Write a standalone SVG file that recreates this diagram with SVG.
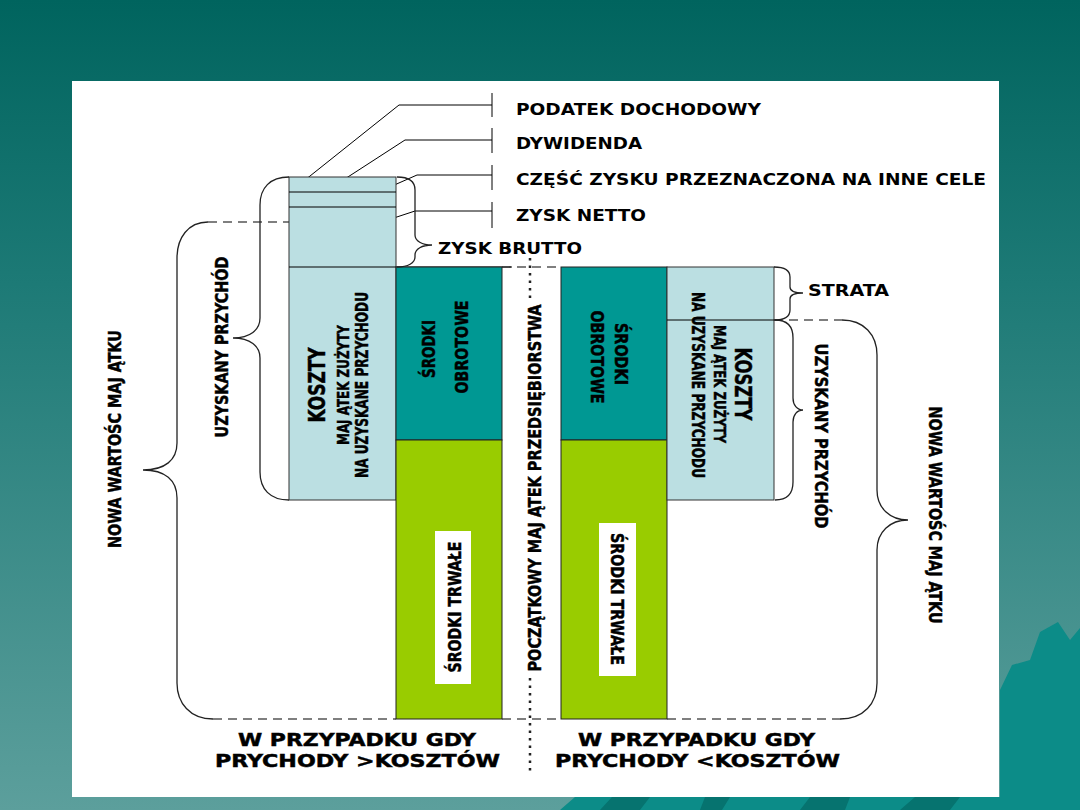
<svg xmlns="http://www.w3.org/2000/svg" width="1080" height="810" viewBox="0 0 1080 810">
<defs>
<linearGradient id="bg" x1="0" y1="0" x2="0" y2="1">
<stop offset="0" stop-color="#00645e"/>
<stop offset="0.35" stop-color="#1d7a76"/>
<stop offset="1" stop-color="#5c9f9c"/>
</linearGradient>
<style>
.t{font-family:"DejaVu Sans","Liberation Sans",sans-serif;font-weight:bold;fill:#000}
.r{font-family:"DejaVu Sans Condensed","DejaVu Sans","Liberation Sans",sans-serif;font-weight:bold;fill:#000;stroke:#000;stroke-width:0.45}
.ln{fill:none;stroke:#000;stroke-width:1}
.br{fill:none;stroke:#222;stroke-width:1.3}
.ds{fill:none;stroke:#555;stroke-width:1.3;stroke-dasharray:9 6}
.dt{fill:none;stroke:#222;stroke-width:2.5;stroke-dasharray:2.5 5}
.blue{fill:#bbdfe2;stroke:#333;stroke-width:1}
.teal{fill:#009893;stroke:#222;stroke-width:1}
.green{fill:#99cc00;stroke:#222;stroke-width:1}
.wbox{fill:#ffffff}
</style>
</defs>
<rect width="1080" height="810" fill="url(#bg)"/>
<path d="M1000,797 L1000,690 L1012,665 L1030,660 L1040,632 L1058,622 L1070,640 L1080,628 L1080,810 L560,810 L575,797 Z" fill="#0c8c88"/>
<path d="M600,810 L612,797 L650,797 L640,810 Z M700,810 L705,797 L730,797 L722,810 Z M800,810 L810,797 L850,797 L845,810 Z M900,810 L915,797 L960,797 L950,810 Z" fill="#06736f"/>
<rect x="72" y="81" width="927" height="716" fill="#ffffff"/>

<g id="connectors">
<path class="ln" d="M492,93 V117 M492,105 H399 L305,180"/>
<path class="ln" d="M492,128 V153 M492,140 H405 L317,197"/>
<path class="ln" d="M492,165 V190 M492,175 H417 L324,216"/>
<path class="ln" d="M492,202 V228 M492,211 H415 L333,238"/>
<path class="ds" d="M208,222 H289"/>
<path class="ds" d="M502,267 H561"/>
<path class="ds" d="M774,320 H842"/>
<path class="ds" d="M213,719 H396 M502,719 H561 M667,719 H840"/>
<path class="dt" d="M530,258 V302 M530,678 V772"/>
</g>

<g id="left-costs">
<rect class="blue" x="289" y="177" width="107" height="323"/>
<path class="ln" d="M289,192 H396 M289,207 H396 M289,267 H512"/>
<text class="r" font-size="23" transform="translate(317,385) rotate(-90)" x="0" y="8.4" text-anchor="middle" textLength="75" lengthAdjust="spacingAndGlyphs">KOSZTY</text>
<text class="r" font-size="16" transform="translate(343,385) rotate(-90)" x="0" y="5.8" text-anchor="middle" textLength="120" lengthAdjust="spacingAndGlyphs">MAJ ĄTEK ZUŻYTY</text>
<text class="r" font-size="17" transform="translate(362,385) rotate(-90)" x="0" y="6.2" text-anchor="middle" textLength="186" lengthAdjust="spacingAndGlyphs">NA UZYSKANE PRZYCHODU</text>
</g>

<g id="left-current">
<rect class="teal" x="396" y="267" width="106" height="173"/>
<text class="r" font-size="18" transform="translate(428,349) rotate(-90)" x="0" y="6.6" text-anchor="middle" textLength="58" lengthAdjust="spacingAndGlyphs">ŚRODKI</text>
<text class="r" font-size="18" transform="translate(461,347) rotate(-90)" x="0" y="6.6" text-anchor="middle" textLength="93" lengthAdjust="spacingAndGlyphs">OBROTOWE</text>
</g>

<g id="left-fixed">
<rect class="green" x="396" y="440" width="106" height="279"/>
<rect class="wbox" x="435" y="531" width="36" height="153"/>
<text class="r" font-size="17" transform="translate(455,607) rotate(-90)" x="0" y="6.2" text-anchor="middle" textLength="131" lengthAdjust="spacingAndGlyphs">ŚRODKI TRWAŁE</text>
</g>

<g id="right-current">
<rect class="teal" x="561" y="267" width="106" height="173"/>
<text class="r" font-size="18" transform="translate(622,354) rotate(90)" x="0" y="6.6" text-anchor="middle" textLength="62" lengthAdjust="spacingAndGlyphs">ŚRODKI</text>
<text class="r" font-size="18" transform="translate(598,357) rotate(90)" x="0" y="6.6" text-anchor="middle" textLength="93" lengthAdjust="spacingAndGlyphs">OBROTOWE</text>
</g>

<g id="right-fixed">
<rect class="green" x="561" y="440" width="106" height="279"/>
<rect class="wbox" x="599" y="523" width="37" height="153"/>
<text class="r" font-size="17" transform="translate(617,599) rotate(90)" x="0" y="6.2" text-anchor="middle" textLength="132" lengthAdjust="spacingAndGlyphs">ŚRODKI TRWAŁE</text>
</g>

<g id="right-costs">
<rect class="blue" x="667" y="267" width="107" height="233"/>
<path class="ln" d="M667,320 H774"/>
<text class="r" font-size="23" transform="translate(743,384) rotate(90)" x="0" y="8.4" text-anchor="middle" textLength="73" lengthAdjust="spacingAndGlyphs">KOSZTY</text>
<text class="r" font-size="16" transform="translate(720,384) rotate(90)" x="0" y="5.8" text-anchor="middle" textLength="118" lengthAdjust="spacingAndGlyphs">MAJ ĄTEK ZUŻYTY</text>
<text class="r" font-size="17" transform="translate(698,385) rotate(90)" x="0" y="6.2" text-anchor="middle" textLength="186" lengthAdjust="spacingAndGlyphs">NA UZYSKANE PRZYCHODU</text>
</g>

<g id="profit-labels">
<text class="t" font-size="16" x="516" y="115" textLength="245" lengthAdjust="spacingAndGlyphs">PODATEK DOCHODOWY</text>
<text class="t" font-size="16" x="516" y="149" textLength="126" lengthAdjust="spacingAndGlyphs">DYWIDENDA</text>
<text class="t" font-size="16" x="516" y="185" textLength="470" lengthAdjust="spacingAndGlyphs">CZĘŚĆ ZYSKU PRZEZNACZONA NA INNE CELE</text>
<text class="t" font-size="16" x="516" y="221" textLength="130" lengthAdjust="spacingAndGlyphs">ZYSK NETTO</text>
</g>

<g id="zysk-brutto">
<path class="br" d="M397,177 C408,177 415,181 415,190 L415,235 C415,241 422,245 432,245 C422,245 415,249 415,255 L415,257 C415,263 408,267 397,267"/>
<text class="t" font-size="16" x="438" y="254" textLength="144" lengthAdjust="spacingAndGlyphs">ZYSK BRUTTO</text>
</g>

<g id="left-revenue">
<path class="br" d="M289,177 C270,177 260,188 260,205 L260,318 C260,330 250,338 233,338 C250,338 260,346 260,358 L260,472 C260,489 270,500 289,500"/>
<text class="r" font-size="17" transform="translate(222,347) rotate(-90)" x="0" y="6.2" text-anchor="middle" textLength="181" lengthAdjust="spacingAndGlyphs">UZYSKANY PRZYCHÓD</text>
</g>

<g id="left-new-value">
<path class="br" d="M208,222 C188,222 177,238 177,258 L177,443 C177,460 165,470 143,470 C165,470 177,480 177,498 L177,683 C177,703 190,719 213,719"/>
<text class="r" font-size="18" transform="translate(114,439) rotate(-90)" x="0" y="6.6" text-anchor="middle" textLength="218" lengthAdjust="spacingAndGlyphs">NOWA WARTOŚC MAJ ĄTKU</text>
</g>

<g id="initial-assets">
<text class="r" font-size="18" transform="translate(534,488) rotate(-90)" x="0" y="6.6" text-anchor="middle" textLength="367" lengthAdjust="spacingAndGlyphs">POCZĄTKOWY MAJ ĄTEK PRZEDSIĘBIORSTWA</text>
</g>

<g id="strata">
<path class="br" d="M774,267 C785,267 790,270 790,277 L790,287 C790,291 795,293 803,293 C795,293 790,295 790,299 L790,310 C790,317 785,320 774,320"/>
<text class="t" font-size="16" x="808" y="296" textLength="81" lengthAdjust="spacingAndGlyphs">STRATA</text>
</g>

<g id="right-revenue">
<path class="br" d="M775,320 C787,320 793,326 793,338 L793,398 C793,405 797,410 803,410 C797,410 793,415 793,422 L793,482 C793,494 787,500 775,500"/>
<text class="r" font-size="17" transform="translate(821,436) rotate(90)" x="0" y="6.2" text-anchor="middle" textLength="185" lengthAdjust="spacingAndGlyphs">UZYSKANY  PRZYCHÓD</text>
</g>

<g id="right-new-value">
<path class="br" d="M842,320 C864,320 877,335 877,355 L877,490 C877,508 890,520 908,520 C890,520 877,532 877,550 L877,683 C877,703 864,719 840,719"/>
<text class="r" font-size="18" transform="translate(936,515) rotate(90)" x="0" y="6.6" text-anchor="middle" textLength="217" lengthAdjust="spacingAndGlyphs">NOWA WARTOŚC MAJ ĄTKU</text>
</g>

<g id="case-left">
<text class="r" font-size="18" x="238" y="746" textLength="238" lengthAdjust="spacingAndGlyphs">W PRZYPADKU GDY</text>
<text class="r" font-size="18" x="215" y="767" textLength="285" lengthAdjust="spacingAndGlyphs">PRYCHODY &gt;KOSZTÓW</text>
</g>

<g id="case-right">
<text class="r" font-size="18" x="578" y="746" textLength="237" lengthAdjust="spacingAndGlyphs">W PRZYPADKU GDY</text>
<text class="r" font-size="18" x="555" y="767" textLength="285" lengthAdjust="spacingAndGlyphs">PRYCHODY &lt;KOSZTÓW</text>
</g>
</svg>
